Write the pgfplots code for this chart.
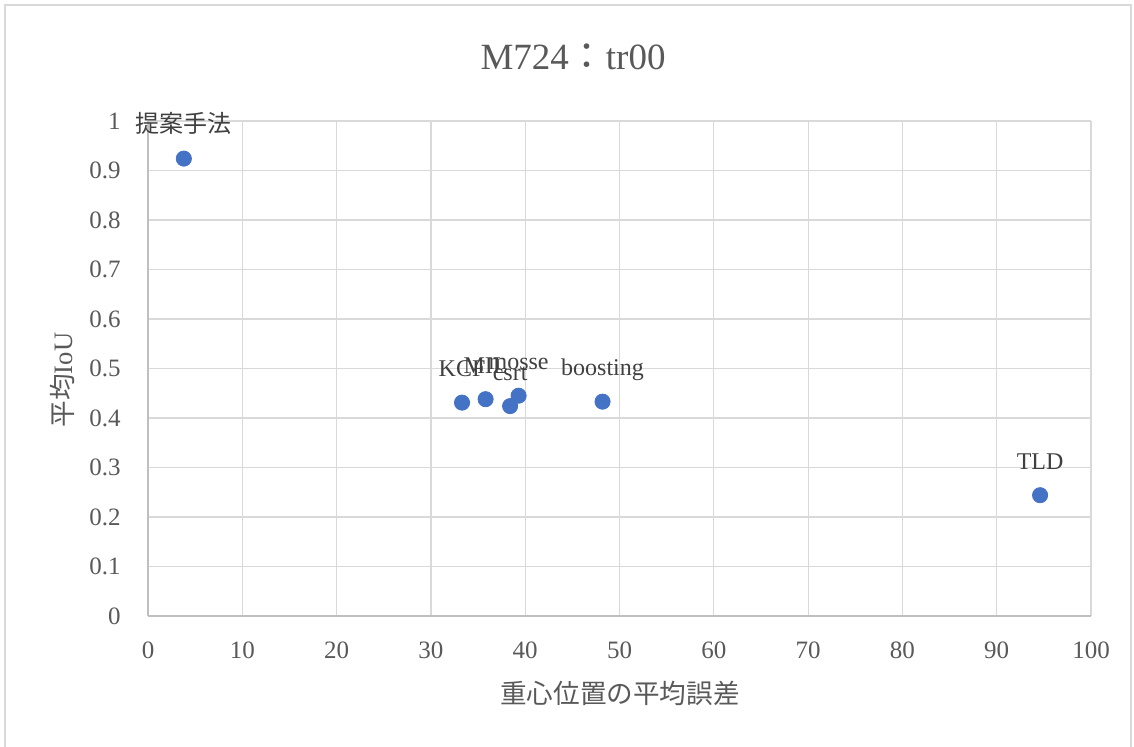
\documentclass[border=0pt]{standalone}
\usepackage{fontspec}
\setmainfont{Liberation Serif}
\newfontfamily\cjk{Noto Sans CJK JP}
\usepackage{pgfplots}
\pgfplotsset{compat=1.18}
\definecolor{txtgray}{HTML}{595959}
\definecolor{lblgray}{HTML}{404040}
\definecolor{gridgray}{HTML}{D9D9D9}
\definecolor{axgray}{HTML}{BFBFBF}
\definecolor{dotblue}{HTML}{4472C4}
\begin{document}
\begin{tikzpicture}
\path[use as bounding box] (0,0) rectangle (567pt,373.5pt);
\draw[gridgray, line width=0.6pt] (2.5pt,-1pt) rectangle (565.5pt,371pt);
\begin{axis}[
  at={(74pt,65.5pt)}, anchor=south west,
  scale only axis, width=471.5pt, height=247.5pt,
  xmin=0, xmax=100, ymin=0, ymax=1,
  xtick={0,10,...,100},
  ytick={0,0.1,...,1.0},
  grid=major,
  major grid style={gridgray, line width=0.6pt},
  axis lines=left,
  axis line style={axgray, line width=0.8pt, -},
  tick style={draw=none},
  /pgf/number format/assume math mode=true,
  yticklabel style={/pgf/number format/fixed, /pgf/number format/precision=1},
  ticklabel style={font=\fontsize{12.5}{14}\selectfont, text=txtgray},
  xticklabel style={yshift=-7.5pt},
  yticklabel style={xshift=-8pt},
  clip=false,
]
\addplot[only marks, mark=*, mark size=3.8pt, mark options={draw=dotblue, fill=dotblue},
  point meta=explicit symbolic,
  nodes near coords,
  every node near coord/.style={anchor=base, yshift=13pt, inner sep=0pt, font=\fontsize{12}{14}\selectfont, text=lblgray}]
coordinates {
  (3.8,0.924) [{\cjk 提案手法}]
  (33.3,0.431) [KCF]
  (35.8,0.438) [MIL]
  (38.4,0.424) [csrt]
  (39.3,0.445) [mosse]
  (48.2,0.433) [boosting]
  (94.6,0.244) [TLD]
};
\end{axis}
\node[text=txtgray, font=\fontsize{18.5}{22}\selectfont] at (286.5pt,345pt) {M724{\cjk ：}tr00};
\node[text=txtgray, font=\fontsize{13.3}{16}\cjk] at (310pt,27pt) {重心位置の平均誤差};
\node[text=txtgray, font=\fontsize{13.3}{16}\selectfont, rotate=90] at (31pt,183.5pt) {{\cjk 平均}IoU};
\end{tikzpicture}
\end{document}
